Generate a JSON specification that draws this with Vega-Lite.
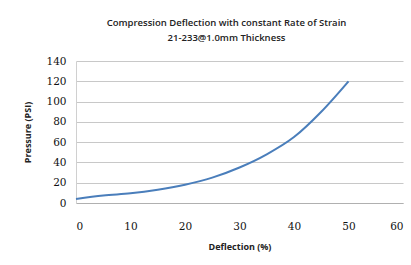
{
  "$schema": "https://vega.github.io/schema/vega-lite/v6.json",
  "width": 327,
  "height": 142,
  "autosize": "none",
  "padding": {"left": 76, "top": 61, "right": 8, "bottom": 62},
  "background": "white",
  "title": {
    "text": ["Compression Deflection  with constant Rate of Strain", "21-233@1.0mm  Thickness"],
    "font": "Open Sans",
    "fontSize": 9.5,
    "fontWeight": 600,
    "color": "#222222",
    "lineHeight": 15,
    "anchor": "middle",
    "dx": -13,
    "offset": 14
  },
  "data": {
    "values": [
      {"d": 0, "p": 4},
      {"d": 5, "p": 7.5},
      {"d": 10, "p": 9.5},
      {"d": 15, "p": 13},
      {"d": 20, "p": 18},
      {"d": 25, "p": 25},
      {"d": 30, "p": 35},
      {"d": 35, "p": 48},
      {"d": 40, "p": 65},
      {"d": 45, "p": 90},
      {"d": 50, "p": 120}
    ]
  },
  "mark": {"type": "line", "interpolate": "monotone", "color": "#4a7ebb", "strokeWidth": 2},
  "encoding": {
    "x": {
      "field": "d", "type": "quantitative",
      "scale": {"domain": [0, 60], "nice": false},
      "axis": {
        "title": "Deflection (%)", "values": [0, 10, 20, 30, 40, 50, 60],
        "grid": false, "ticks": false, "domainColor": "#b0b0b0",
        "labelFont": "DejaVu Serif", "labelFontSize": 10.5, "labelColor": "#111111",
        "labelPadding": 18,
        "titleFont": "Open Sans", "titleFontSize": 9, "titleFontWeight": "bold", "titleColor": "#222222",
        "titlePadding": 11
      }
    },
    "y": {
      "field": "p", "type": "quantitative",
      "scale": {"domain": [0, 140], "nice": false},
      "axis": {
        "title": "Pressure (PSI)", "values": [0, 20, 40, 60, 80, 100, 120, 140],
        "grid": true, "gridColor": "#c8c8c8", "ticks": false, "domainColor": "#d0d0d0",
        "labelFont": "DejaVu Serif", "labelFontSize": 10.5, "labelColor": "#111111",
        "labelPadding": 10,
        "titleFont": "Open Sans", "titleFontSize": 9, "titleFontWeight": "bold", "titleColor": "#222222",
        "titlePadding": 13
      }
    }
  },
  "config": {"view": {"stroke": null}}
}
